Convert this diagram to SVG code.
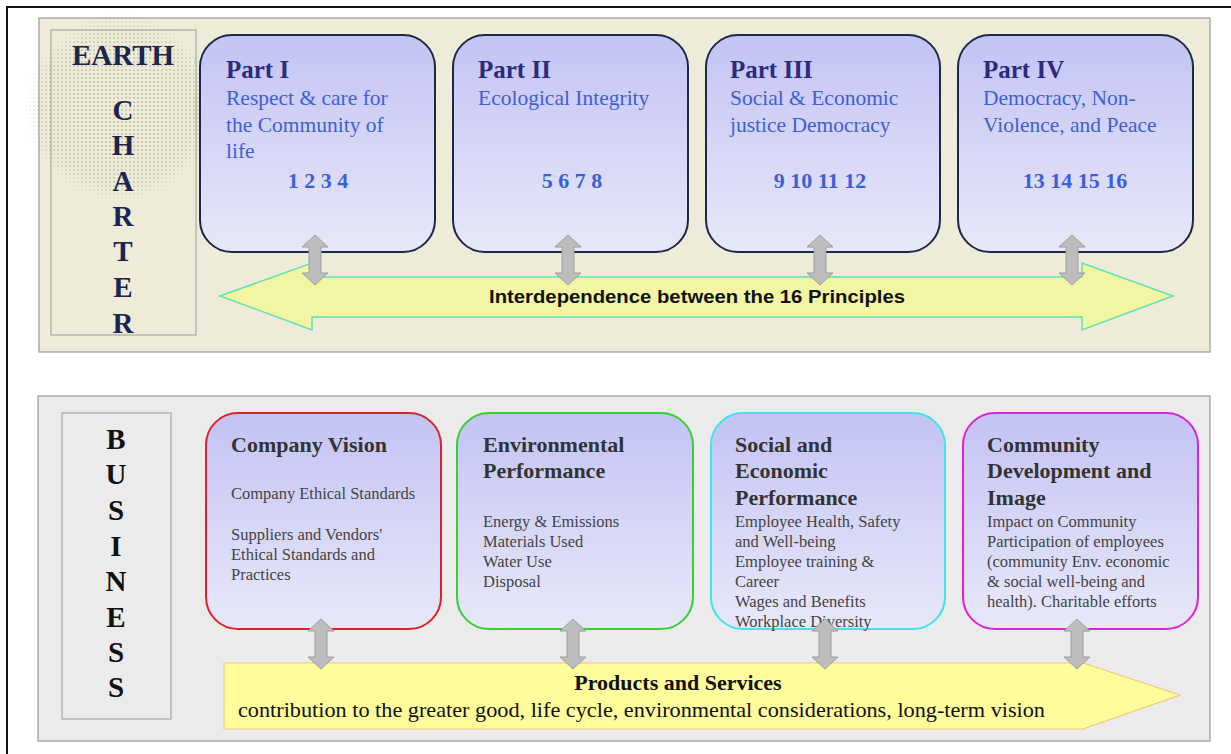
<svg xmlns="http://www.w3.org/2000/svg" width="1231" height="754" viewBox="0 0 1231 754">
<defs>
<linearGradient id="boxg" x1="0" y1="0" x2="0" y2="1">
<stop offset="0" stop-color="#c3c3f5"/>
<stop offset="1" stop-color="#e8e8f9"/>
</linearGradient>
<pattern id="dots" width="4" height="4" patternUnits="userSpaceOnUse">
<rect x="1" y="1" width="2" height="2" fill="#b4b29c"/>
</pattern>
<radialGradient id="fade" cx="0.5" cy="0.5" r="0.5">
<stop offset="0" stop-color="#fff" stop-opacity="1"/>
<stop offset="0.8" stop-color="#fff" stop-opacity="0.85"/>
<stop offset="1" stop-color="#fff" stop-opacity="0"/>
</radialGradient>
<mask id="circm">
<circle cx="120" cy="108" r="95" fill="url(#fade)"/>
</mask>
<path id="dbl" d="M0,0 L13,12 L6,12 L6,38 L13,38 L0,50 L-13,38 L-6,38 L-6,12 L-13,12 Z"/>
</defs>
<style>
.frame{fill:none;stroke:#111;stroke-width:2}
.panelTop{fill:#eeecd9;stroke:#9a9a9a;stroke-width:1.2}
.panelBot{fill:#ebebeb;stroke:#9a9a9a;stroke-width:1.2}
.side{fill:none;stroke:#a8a8a0;stroke-width:1.2}
.part{fill:url(#boxg);stroke:#1c2a48;stroke-width:2}
.biz{fill:url(#boxg);stroke-width:2}
.earth{font-family:"Liberation Serif",serif;font-weight:bold;font-size:29px;fill:#1a2550;text-anchor:middle}
.bus{font-family:"Liberation Serif",serif;font-weight:bold;font-size:29px;fill:#111;text-anchor:middle}
.ptitle{font-family:"Liberation Serif",serif;font-weight:bold;font-size:25px;fill:#2a2a7e}
.psub{font-family:"Liberation Serif",serif;font-size:21.5px;fill:#3f5fd2}
.pnum{font-family:"Liberation Serif",serif;font-weight:bold;font-size:22px;fill:#3a5fdc;text-anchor:middle}
.btitle{font-family:"Liberation Serif",serif;font-weight:bold;font-size:22px;fill:#333}
.bbody{font-family:"Liberation Serif",serif;font-size:16.5px;fill:#444}
.gray{fill:#bdbdbd;stroke:#9e9e9e;stroke-width:1}
</style>

<path class="frame" d="M7,754 V7 H1231"/>

<g id="earth-charter-panel">
<rect class="panelTop" x="39" y="18" width="1171" height="334"/>
<circle cx="120" cy="108" r="95" fill="url(#dots)" mask="url(#circm)" opacity="0.6"/>
<rect class="side" x="51" y="30" width="145" height="305"/>
<text class="earth" x="123" y="65">EARTH</text>
<text class="earth" x="123" y="120">C</text>
<text class="earth" x="123" y="155">H</text>
<text class="earth" x="123" y="191">A</text>
<text class="earth" x="123" y="226">R</text>
<text class="earth" x="123" y="261">T</text>
<text class="earth" x="123" y="297">E</text>
<text class="earth" x="123" y="333">R</text>
</g>

<g id="part1">
<rect class="part" x="200" y="35" width="235" height="217" rx="32"/>
<text class="ptitle" x="226" y="78">Part I</text>
<text class="psub" x="226" y="105">Respect &amp; care for</text>
<text class="psub" x="226" y="132">the Community of</text>
<text class="psub" x="226" y="158">life</text>
<text class="pnum" x="318" y="188">1 2 3 4</text>
</g>
<g id="part2">
<rect class="part" x="453" y="35" width="235" height="217" rx="32"/>
<text class="ptitle" x="478" y="78">Part II</text>
<text class="psub" x="478" y="105">Ecological Integrity</text>
<text class="pnum" x="572" y="188">5 6 7 8</text>
</g>
<g id="part3">
<rect class="part" x="706" y="35" width="234" height="217" rx="32"/>
<text class="ptitle" x="730" y="78">Part III</text>
<text class="psub" x="730" y="105">Social &amp; Economic</text>
<text class="psub" x="730" y="132">justice Democracy</text>
<text class="pnum" x="820" y="188">9 10 11 12</text>
</g>
<g id="part4">
<rect class="part" x="958" y="35" width="235" height="217" rx="32"/>
<text class="ptitle" x="983" y="78">Part IV</text>
<text class="psub" x="983" y="105">Democracy, Non-</text>
<text class="psub" x="983" y="132">Violence, and Peace</text>
<text class="pnum" x="1075" y="188">13 14 15 16</text>
</g>

<g id="interdependence">
<path d="M220,296 L312,263 L312,277 L1082,277 L1082,263 L1173,296 L1082,330 L1082,317 L312,317 L312,330 Z" fill="#f2f5a2" stroke="#5fe0b5" stroke-width="1.5"/>
<text x="697" y="303" font-family="Liberation Sans, Arial, sans-serif" font-weight="bold" font-size="18" fill="#111" text-anchor="middle" textLength="416" lengthAdjust="spacingAndGlyphs">Interdependence between the 16 Principles</text>
</g>

<g id="business-panel">
<rect class="panelBot" x="38" y="396" width="1172" height="345"/>
<rect class="side" x="62" y="413" width="109" height="306"/>
<text class="bus" x="116" y="449">B</text>
<text class="bus" x="116" y="484">U</text>
<text class="bus" x="116" y="520">S</text>
<text class="bus" x="116" y="556">I</text>
<text class="bus" x="116" y="591">N</text>
<text class="bus" x="116" y="627">E</text>
<text class="bus" x="116" y="662">S</text>
<text class="bus" x="116" y="697">S</text>
</g>

<g id="company-vision">
<rect class="biz" x="206" y="413" width="235" height="216" rx="32" stroke="#e0202c"/>
<text class="btitle" x="231" y="452">Company Vision</text>
<text class="bbody" x="231" y="499">Company Ethical Standards</text>
<text class="bbody" x="231" y="540">Suppliers and Vendors'</text>
<text class="bbody" x="231" y="560">Ethical Standards and</text>
<text class="bbody" x="231" y="580">Practices</text>
</g>
<g id="environmental-performance">
<rect class="biz" x="457" y="413" width="236" height="216" rx="32" stroke="#34d034"/>
<text class="btitle" x="483" y="452">Environmental</text>
<text class="btitle" x="483" y="478">Performance</text>
<text class="bbody" x="483" y="527">Energy &amp; Emissions</text>
<text class="bbody" x="483" y="547">Materials Used</text>
<text class="bbody" x="483" y="567">Water Use</text>
<text class="bbody" x="483" y="587">Disposal</text>
</g>
<g id="social-economic-performance">
<rect class="biz" x="711" y="413" width="234" height="216" rx="32" stroke="#3ee4ea"/>
<text class="btitle" x="735" y="452">Social and</text>
<text class="btitle" x="735" y="478">Economic</text>
<text class="btitle" x="735" y="505">Performance</text>
<text class="bbody" x="735" y="527">Employee Health, Safety</text>
<text class="bbody" x="735" y="547">and Well-being</text>
<text class="bbody" x="735" y="567">Employee training &amp;</text>
<text class="bbody" x="735" y="587">Career</text>
<text class="bbody" x="735" y="607">Wages and Benefits</text>
<text class="bbody" x="735" y="627">Workplace Diversity</text>
</g>
<g id="community-development">
<rect class="biz" x="963" y="413" width="235" height="216" rx="32" stroke="#e020d4"/>
<text class="btitle" x="987" y="452">Community</text>
<text class="btitle" x="987" y="478">Development and</text>
<text class="btitle" x="987" y="505">Image</text>
<text class="bbody" x="987" y="527">Impact on Community</text>
<text class="bbody" x="987" y="547">Participation of employees</text>
<text class="bbody" x="987" y="567">(community Env. economic</text>
<text class="bbody" x="987" y="587">&amp; social well-being and</text>
<text class="bbody" x="987" y="607">health). Charitable efforts</text>
</g>

<g id="products-services">
<path d="M224,663 L1083,663 L1180,695 L1083,729 L224,729 Z" fill="#fffc9c" stroke="#f0c878" stroke-width="1.2"/>
<text x="678" y="690" font-family="Liberation Serif, serif" font-weight="bold" font-size="22" fill="#111" text-anchor="middle">Products and Services</text>
<text x="238" y="717" font-family="Liberation Serif, serif" font-size="21" fill="#111" textLength="807" lengthAdjust="spacingAndGlyphs">contribution to the greater good, life cycle, environmental considerations, long-term vision</text>
</g>

<g id="connectors">
<use href="#dbl" class="gray" x="315" y="235"/>
<use href="#dbl" class="gray" x="568" y="235"/>
<use href="#dbl" class="gray" x="820" y="235"/>
<use href="#dbl" class="gray" x="1072" y="235"/>
<use href="#dbl" class="gray" x="321" y="619"/>
<use href="#dbl" class="gray" x="573" y="619"/>
<use href="#dbl" class="gray" x="825" y="619"/>
<use href="#dbl" class="gray" x="1077" y="619"/>
</g>
</svg>
